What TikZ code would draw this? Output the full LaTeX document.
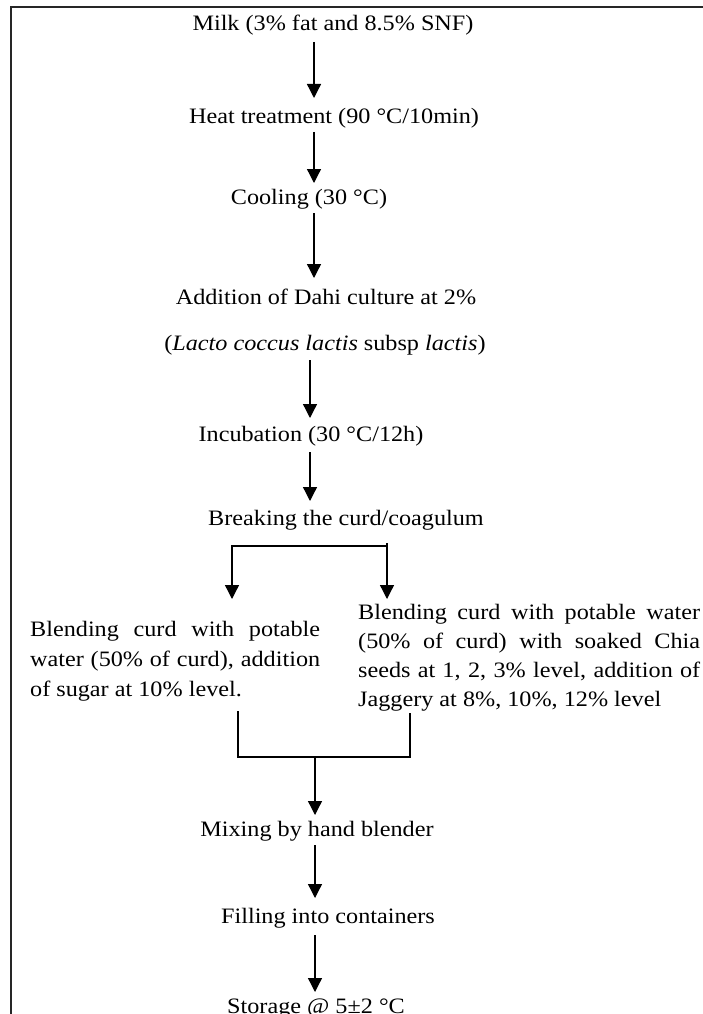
\documentclass[tikz,border=0pt]{standalone}
\usepackage{fontspec}
\setmainfont{Liberation Serif}[FakeStretch=1.1]
\usetikzlibrary{arrows.meta}
\begin{document}
\begin{tikzpicture}[x=1pt,y=-1pt,
  lbl/.style={inner sep=0pt, anchor=base, font=\fontsize{22}{26}\selectfont},
  blk/.style={inner sep=0pt, anchor=base west, font=\fontsize{22}{30}\selectfont},
  arr/.style={line width=1.3pt, -{Triangle[length=14pt,width=14pt]}},
  ln/.style={line width=1.3pt},
  frame/.style={line width=1.6pt, draw=black!85}]
\useasboundingbox (0,0) rectangle (703,1014);
\clip (0,0) rectangle (703,1014);
\draw[frame] (11,1020) -- (11,7) -- (710,7);

\node[lbl] (milk) at (333,31) {Milk (3\% fat and 8.5\% SNF)};
\node[lbl] (heat) at (334,124) {Heat treatment (90 °C/10min)};
\node[lbl] (cool) at (309,204) {Cooling (30 °C)};
\node[lbl] (dahi) at (326,304) {Addition of Dahi culture at 2\%};
\node[lbl] (lacto) at (325,350) {(\textit{Lacto coccus lactis} subsp \textit{lactis})};
\node[lbl] (incub) at (311,441) {Incubation (30 °C/12h)};
\node[lbl] (break) at (346,525) {Breaking the curd/coagulum};
\node[blk] (left) at (30,636) {\parbox[t]{290pt}{\tolerance=10000\hyphenpenalty=10000
  Blending curd with potable\linebreak water (50\% of curd), addition\linebreak of sugar at 10\% level.}};
\node[blk] (right) at (358,619) {\parbox[t]{342pt}{\fontsize{22}{29}\selectfont\tolerance=10000\hyphenpenalty=10000
  Blending curd with potable water\linebreak (50\% of curd) with soaked Chia\linebreak seeds at 1, 2, 3\% level, addition of\linebreak Jaggery at 8\%, 10\%, 12\% level}};
\node[lbl] (mix) at (317,836) {Mixing by hand blender};
\node[lbl] (fill) at (328,923) {Filling into containers};
\node[lbl] (store) at (316,1013) {Storage @ 5±2 °C};

% main arrows
\coordinate (a1) at (314,42);  \coordinate (b1) at (314,98);
\coordinate (a2) at (314,132); \coordinate (b2) at (314,183);
\coordinate (a3) at (314,213); \coordinate (b3) at (314,278);
\coordinate (a4) at (310,360); \coordinate (b4) at (310,418);
\coordinate (a5) at (310,452); \coordinate (b5) at (310,501);
\coordinate (a8) at (315,845); \coordinate (b8) at (315,898);
\coordinate (a9) at (315,935); \coordinate (b9) at (315,992);
\draw[arr] (a1) -- (b1);
\draw[arr] (a2) -- (b2);
\draw[arr] (a3) -- (b3);
\draw[arr] (a4) -- (b4);
\draw[arr] (a5) -- (b5);
\draw[arr] (a8) -- (b8);
\draw[arr] (a9) -- (b9);

% branch
\coordinate (brL) at (232,546); \coordinate (brR) at (387,546);
\coordinate (brRt) at (387,543);
\coordinate (tipL) at (232,599); \coordinate (tipR) at (387,599);
\draw[arr] (brR) -- (brL) -- (tipL);
\draw[arr] (brRt) -- (tipR);

% merge
\coordinate (mL) at (238,711); \coordinate (mLb) at (238,757);
\coordinate (mR) at (410,713); \coordinate (mRb) at (410,757);
\coordinate (mC) at (315,757); \coordinate (mTip) at (315,815);
\draw[ln] (mL) -- (mLb) -- (mRb) -- (mR);
\draw[arr] (mC) -- (mTip);
\end{tikzpicture}
\end{document}
